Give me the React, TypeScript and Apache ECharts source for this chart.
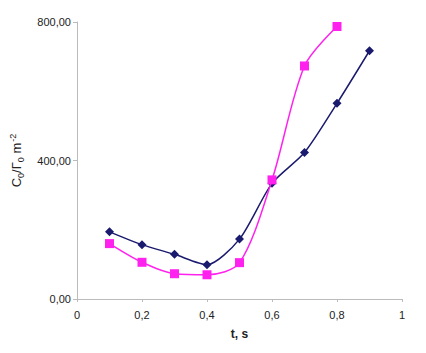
import React, { useEffect, useRef } from "react";
import * as echarts from "echarts";

const tValues = [0.1, 0.2, 0.3, 0.4, 0.5, 0.6, 0.7, 0.8, 0.9];
const seriesNavy = [194, 157, 129, 99, 173, 334, 423, 565, 717];
const tMagenta = [0.1, 0.2, 0.3, 0.4, 0.5, 0.6, 0.7, 0.8];
const seriesMagenta = [160, 106, 73, 70, 105, 344, 673, 787];
const xTicks = [0, 0.2, 0.4, 0.6, 0.8, 1];
const yTicks = [0, 400, 800];

export default function App() {
  const ref = useRef<HTMLDivElement>(null);
  useEffect(() => {
    if (!ref.current) return;
    const chart = echarts.init(ref.current, undefined, { renderer: "svg" });
    const font = "'Liberation Sans', Arial, sans-serif";
    chart.setOption({
      animation: false,
      backgroundColor: "#ffffff",
      grid: { left: 76, right: 24, top: 22, bottom: 54, containLabel: false },
      xAxis: {
        type: "value",
        min: 0,
        max: 1,
        interval: 0.2,
        name: "t, s",
        nameLocation: "middle",
        nameGap: 29,
        nameTextStyle: { fontFamily: font, fontSize: 12, fontWeight: "bold", color: "#222" },
        axisLine: { lineStyle: { color: "#bbbbbb" } },
        axisTick: { show: true, length: 3, lineStyle: { color: "#bbbbbb" } },
        splitLine: { show: false },
        axisLabel: {
          fontFamily: font,
          fontSize: 11,
          color: "#222",
          margin: 10,
          formatter: (v: number) => (xTicks.includes(Math.round(v * 10) / 10) ? String(v).replace(".", ",") : ""),
        },
      },
      yAxis: {
        type: "value",
        min: 0,
        max: 800,
        interval: 400,
        name: "{b|C}{s|0}{b|/Γ}{s|0}{b| m}{p|-2}",
        nameLocation: "middle",
        nameGap: 52,
        nameRotate: 90,
        nameTextStyle: {
          rich: {
            b: { fontFamily: font, fontSize: 13, color: "#222" },
            s: { fontFamily: font, fontSize: 9, color: "#222", verticalAlign: "bottom", padding: [6, 0, 0, 0] },
            p: { fontFamily: font, fontSize: 9, color: "#222", verticalAlign: "top", padding: [0, 0, 8, 1] },
          },
        },
        axisLine: { show: true, lineStyle: { color: "#bbbbbb" } },
        axisTick: { show: true, length: 4, lineStyle: { color: "#bbbbbb" } },
        splitLine: { show: false },
        axisLabel: {
          fontFamily: font,
          fontSize: 11,
          color: "#222",
          margin: 6,
          formatter: (v: number) => (yTicks.includes(v) ? v.toFixed(2).replace(".", ",") : ""),
        },
      },
      series: [
        {
          type: "line",
          data: tValues.map((t, i) => [t, seriesNavy[i]]),
          smooth: 0.25,
          symbol: "diamond",
          symbolSize: 9,
          lineStyle: { color: "#1a1a6e", width: 1.5 },
          itemStyle: { color: "#1a1a6e" },
          z: 3,
        },
        {
          type: "line",
          data: tMagenta.map((t, i) => [t, seriesMagenta[i]]),
          smooth: 0.3,
          symbol: "rect",
          symbolSize: 9,
          lineStyle: { color: "#ff22ee", width: 1.5 },
          itemStyle: { color: "#ff22ee" },
          z: 4,
        },
      ],
    });
    return () => chart.dispose();
  }, []);
  return <div ref={ref} style={{ width: 426, height: 353, position: "absolute", left: 0, top: 0 }} />;
}
